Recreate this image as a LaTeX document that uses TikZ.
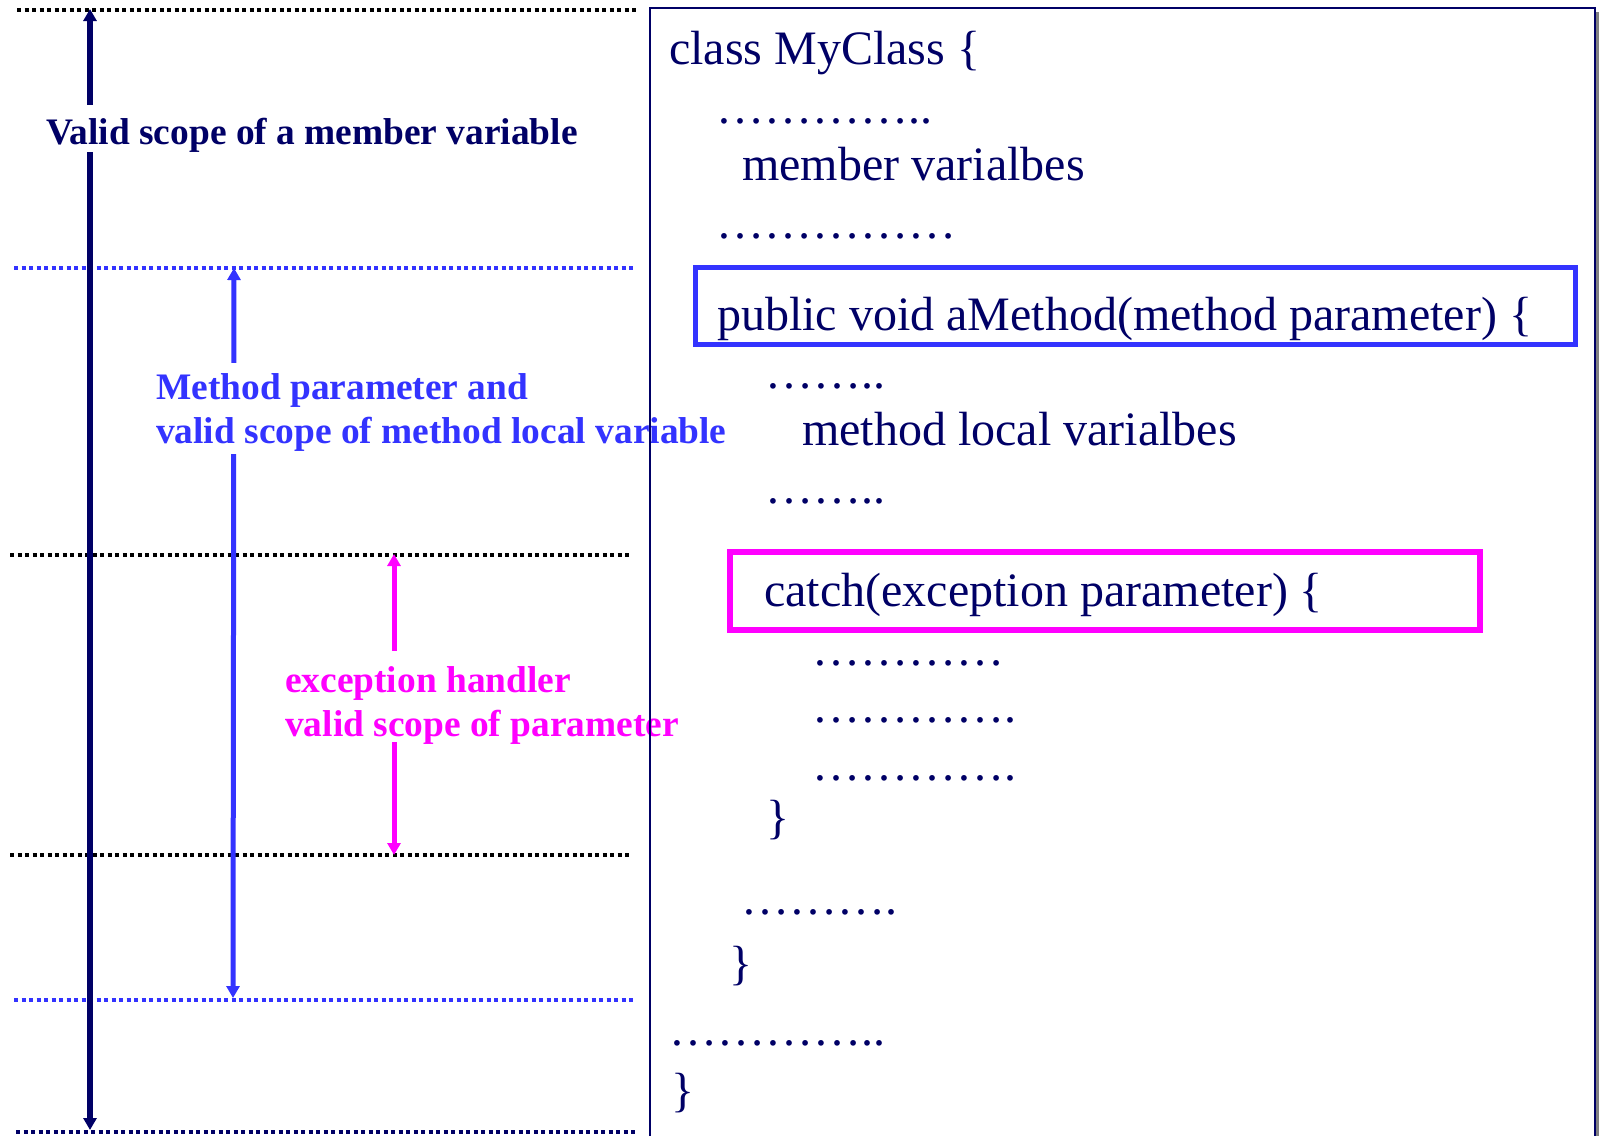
\documentclass[tikz,border=0pt]{standalone}
\usepackage{fontspec}
\setmainfont{Liberation Serif}
\usetikzlibrary{arrows.meta}
\definecolor{navy}{RGB}{0,0,102}
\definecolor{scopeblue}{RGB}{51,51,255}
\definecolor{scopepink}{RGB}{255,0,255}

\begin{document}
\begin{tikzpicture}[x=1pt,y=-1pt,
  codetext/.style={anchor=base west,inner sep=0pt,text=navy,font=\fontsize{48}{57}\selectfont},
  scopelabel/.style={anchor=base west,inner sep=0pt,fill=white,font=\bfseries\fontsize{37.4}{44}\selectfont},
  dotline/.style={line width=4pt,dash pattern=on 4pt off 3.5pt},
  scopearrow/.style={{Triangle[width=13pt,length=12pt]}-{Triangle[width=13pt,length=12pt]}},
]
\useasboundingbox (0,0) rectangle (1600,1136);

% ---- boundary lines of the scopes
\coordinate (l1a) at (17,10);    \coordinate (l1b) at (637,10);
\coordinate (l2a) at (14,268);   \coordinate (l2b) at (636,268);
\coordinate (l3a) at (10,555);   \coordinate (l3b) at (631,555);
\coordinate (l4a) at (10,855);   \coordinate (l4b) at (631,855);
\coordinate (l5a) at (14,1000);  \coordinate (l5b) at (636,1000);
\coordinate (l6a) at (16,1132);  \coordinate (l6b) at (636,1132);
\draw[dotline,black]     (l1a) -- (l1b);
\draw[dotline,scopeblue] (l2a) -- (l2b);
\draw[dotline,black]     (l3a) -- (l3b);
\draw[dotline,black]     (l4a) -- (l4b);
\draw[dotline,scopeblue] (l5a) -- (l5b);
\draw[dotline,navy]      (l6a) -- (l6b);

% ---- scope arrows
\coordinate (mtop) at (90,9);    \coordinate (mbot) at (90,1130);
\coordinate (ptop) at (234,268); \coordinate (pbot) at (233,998);
\coordinate (etop) at (394,554); \coordinate (ebot) at (394,855);
\draw[scopearrow,navy,line width=6pt]       (mtop) -- (mbot);
\draw[scopearrow,scopeblue,line width=5pt]  (ptop) -- (pbot);
\draw[scopearrow,scopepink,line width=5pt]  (etop) -- (ebot);

% ---- scope labels (white backing interrupts the arrows)
\node[scopelabel,text=navy,text height=39pt,text depth=8pt] (memberlbl) at (46,144) {Valid scope of a member variable};
\node[scopelabel,text=scopeblue,text height=36pt,text depth=8pt] (methlblA) at (156,399) {Method parameter and};
\node[scopelabel,text=scopeblue,text height=36pt,text depth=11pt] (methlblB) at (156,443) {valid scope of method local variable};
\node[scopelabel,text=scopepink,text height=41pt,text depth=8pt] (exclblA) at (285,692) {exception handler};
\node[scopelabel,text=scopepink,text height=36pt,text depth=6pt] (exclblB) at (285,736) {valid scope of parameter};

% ---- code frame with shadow
\coordinate (shA) at (1597.5,12);  \coordinate (shB) at (1597.5,1136);
\draw[gray,line width=3pt] (shA) -- (shB);
\coordinate (fbl) at (650,1136); \coordinate (ftl) at (650,8);
\coordinate (ftr) at (1595,8);   \coordinate (fbr) at (1595,1136);
\draw[navy,line width=2pt] (fbl) -- (ftl) -- (ftr) -- (fbr);

% ---- highlighted declarations
\draw[scopeblue,line width=5pt] (695,267.5) rectangle (1575.5,344.5);
\draw[scopepink,line width=5.5pt] (730,552) rectangle (1480,630);

% ---- code
\node[codetext] (c1) at (669,64)   {class MyClass \{};
\node[codetext] (d1) at (716,123)  {…………..};
\node[codetext] (c2) at (742,180)  {member varialbes};
\node[codetext] (d2) at (716,238)  {……………};
\node[codetext] (c3) at (717,330)  {public void aMethod(method parameter) \{};
\node[codetext] (d3) at (765,388)  {……..};
\node[codetext] (c4) at (802,445)  {method local varialbes};
\node[codetext] (d4) at (765,503)  {……..};
\node[codetext] (c5) at (764,606)  {catch(exception parameter) \{};
\node[codetext] (d5) at (812,665)  {…………};
\node[codetext] (d6) at (812,722)  {………….};
\node[codetext] (d7) at (812,780)  {………….};
\node[codetext] (c6) at (766,833)  {\}};
\node[codetext] (d8) at (741,914)  {……….};
\node[codetext] (c7) at (729,979)  {\}};
\node[codetext] (d9) at (669,1045) {…………..};
\node[codetext] (c8) at (671,1106) {\}};
\end{tikzpicture}
\end{document}
